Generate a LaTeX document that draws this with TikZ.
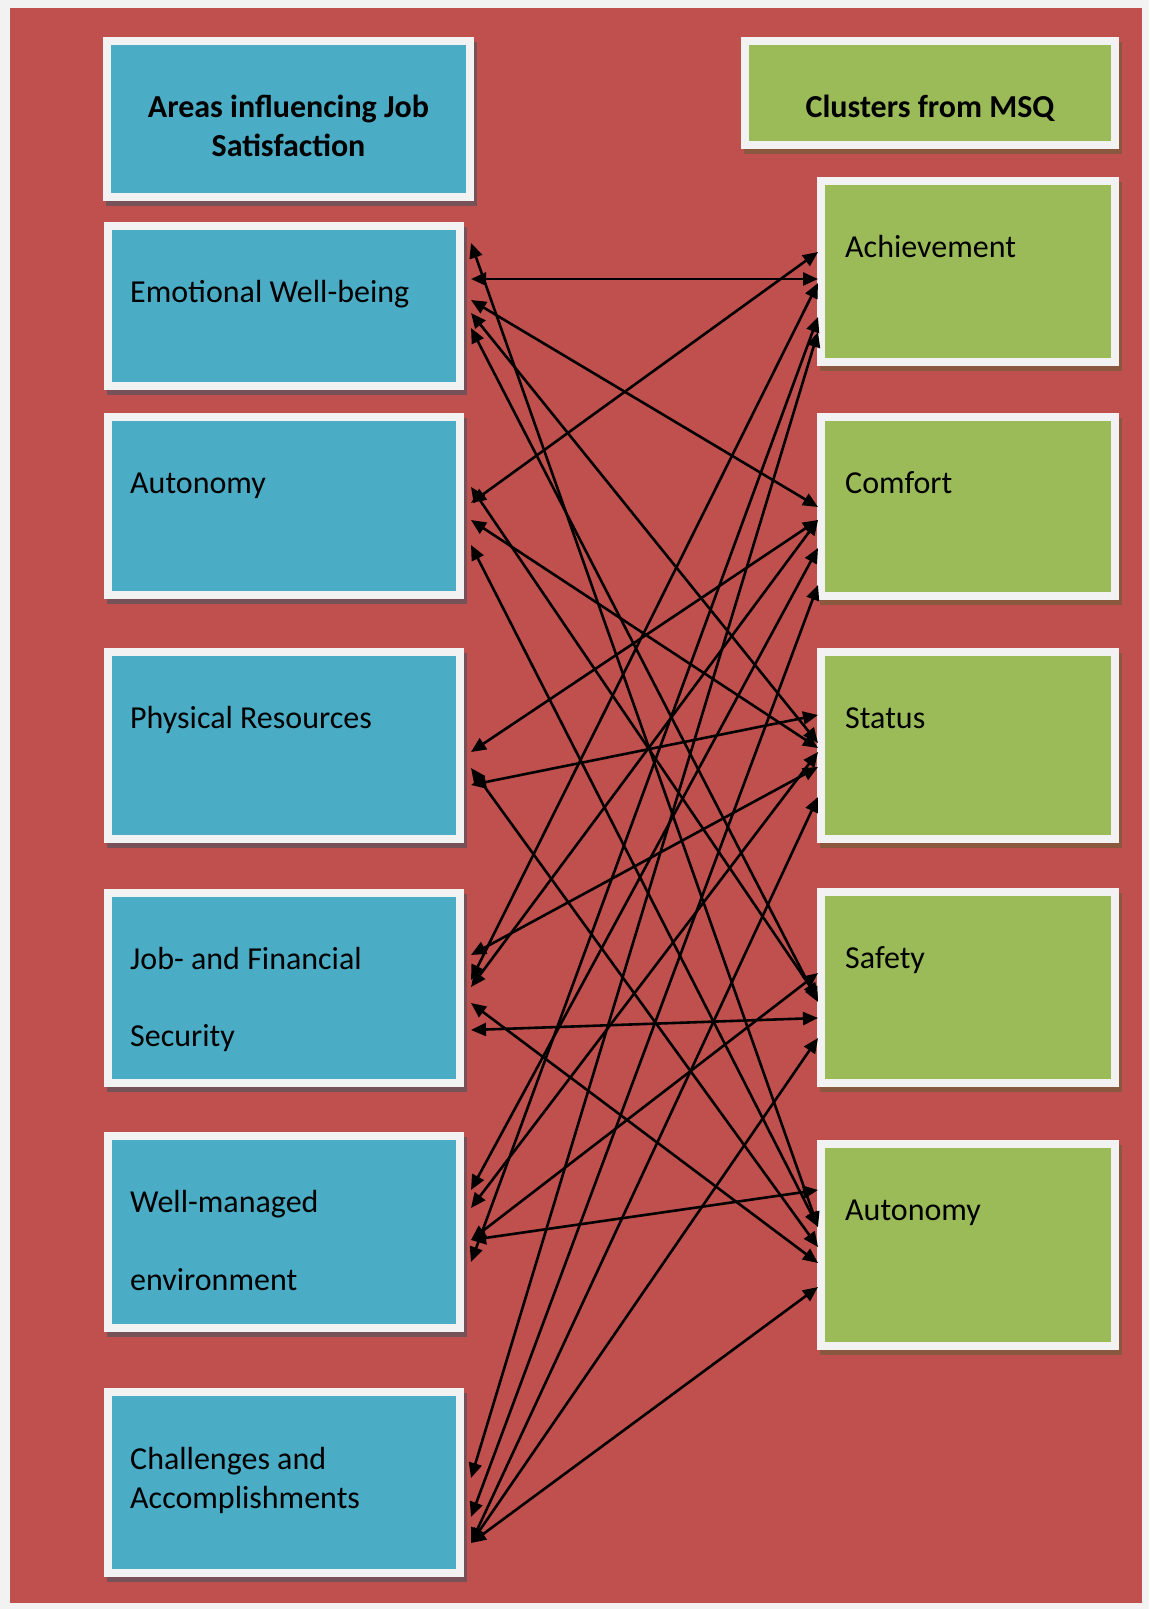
\documentclass[tikz,border=0pt]{standalone}
\usepackage{fontspec}
\setmainfont{Carlito}
\usetikzlibrary{positioning, calc, arrows.meta, shadows}

\definecolor{bgred}{RGB}{192,80,77}
\definecolor{pagegrey}{RGB}{242,242,242}
\definecolor{areablue}{RGB}{75,172,198}
\definecolor{msqgreen}{RGB}{155,187,89}
\definecolor{blueshade}{RGB}{118,82,88}
\definecolor{greenshade}{RGB}{137,88,62}

\begin{document}
\begin{tikzpicture}[
        x=1pt, y=-1pt,
        >={Triangle[length=15pt,width=13pt]},
        base/.style={rectangle, draw=pagegrey, line width=8pt, inner sep=0pt, outer sep=4pt},
        area/.style={base, fill=areablue, minimum width=352pt,
            drop shadow={shadow xshift=3pt, shadow yshift=-5pt, fill=blueshade, draw=blueshade, line width=8pt, opacity=1}},
        cluster/.style={base, fill=msqgreen, minimum width=294pt,
            drop shadow={shadow xshift=3pt, shadow yshift=-5pt, fill=greenshade, draw=greenshade, line width=8pt, opacity=1}},
        txt/.style={anchor=base west, inner sep=0pt, align=left, font=\fontsize{32}{38}\selectfont},
        head/.style={anchor=base, inner sep=0pt, align=center, font=\fontsize{32}{39}\selectfont\bfseries},
        link/.style={<->, line width=2.6pt}
        ]

        \fill[pagegrey] (0,0) rectangle (1149,1609);
        \fill[bgred] (10,8) rectangle (1142,1603);

        % headers
        \node[area, minimum width=363pt, minimum height=156pt] (areas) at (288.5,119) {};
        \node[cluster, minimum width=370pt, minimum height=104pt] (clusters) at (930,93) {};

        % left column
        \node[area, minimum height=160pt] (emotional) at (284,306) {};
        \node[area, minimum height=178pt, below=23pt of emotional] (autonomy) {};
        \node[area, minimum height=187pt, below=49pt of autonomy] (physical) {};
        \node[area, minimum height=190pt, below=46pt of physical] (jobsec) {};
        \node[area, minimum height=192pt, below=45pt of jobsec] (managed) {};
        \node[area, minimum height=181pt, below=56pt of managed] (challenge) {};

        % right column
        \node[cluster, minimum height=181pt] (achieve) at (968,271.5) {};
        \node[cluster, minimum height=179pt, below=47pt of achieve] (comfort) {};
        \node[cluster, minimum height=187pt, below=48pt of comfort] (status) {};
        \node[cluster, minimum height=191pt, below=45pt of status] (safety) {};
        \node[cluster, minimum height=202pt, below=53pt of safety] (msqauto) {};

        % texts (multi-line ones sit on their last line)
        \node[head] (areastxt) at ($(areas.north)+(0,119)$) {Areas influencing Job\\Satisfaction};
        \node[head] (clusterstxt) at ($(clusters.north)+(0,80)$) {Clusters from MSQ};
        \node[txt] (emotionaltxt) at ($(emotional.north west)+(26,80)$) {Emotional Well-being};
        \node[txt] (autonomytxt) at ($(autonomy.north west)+(26,80)$) {Autonomy};
        \node[txt] (physicaltxt) at ($(physical.north west)+(26,80)$) {Physical Resources};
        \node[txt] (jobsectxt) at ($(jobsec.north west)+(26,157)$) {Job- and Financial\\[39pt]Security};
        \node[txt] (managedtxt) at ($(managed.north west)+(26,158)$) {Well-managed\\[40pt]environment};
        \node[txt, font=\fontsize{32}{39}\selectfont] (challengetxt) at ($(challenge.north west)+(26,120)$) {Challenges and\\Accomplishments};
        \node[txt] (achievetxt) at ($(achieve.north west)+(28,80)$) {Achievement};
        \node[txt] (comforttxt) at ($(comfort.north west)+(28,80)$) {Comfort};
        \node[txt] (statustxt) at ($(status.north west)+(28,80)$) {Status};
        \node[txt] (safetytxt) at ($(safety.north west)+(28,80)$) {Safety};
        \node[txt] (msqautotxt) at ($(msqauto.north west)+(28,80)$) {Autonomy};

        % links
        \draw[link] ($(emotional.north east)+(7,57)$) -- ($(achieve.north west)+(1,102)$);
        \draw[link] ($(emotional.north east)+(7,78)$) -- ($(comfort.north west)+(1,94)$);
        \draw[link] ($(emotional.north east)+(7,91)$) -- ($(status.north west)+(1,95)$);
        \draw[link] ($(emotional.north east)+(7,106)$) -- ($(safety.north west)+(1,114)$);
        \draw[link] ($(emotional.north east)+(7,21)$) -- ($(msqauto.north west)+(1,87)$);
        \draw[link] ($(autonomy.north east)+(7,90)$) -- ($(achieve.north west)+(1,75)$);
        \draw[link] ($(autonomy.north east)+(7,107)$) -- ($(status.north west)+(1,100)$);
        \draw[link] ($(autonomy.north east)+(7,74)$) -- ($(safety.north west)+(1,110)$);
        \draw[link] ($(autonomy.north east)+(7,132)$) -- ($(msqauto.north west)+(1,87)$);
        \draw[link] ($(physical.north east)+(7,104)$) -- ($(comfort.north west)+(1,107)$);
        \draw[link] ($(physical.north east)+(7,137)$) -- ($(status.north west)+(1,67)$);
        \draw[link] ($(physical.north east)+(7,120)$) -- ($(msqauto.north west)+(1,107)$);
        \draw[link] ($(jobsec.north east)+(7,91)$) -- ($(achieve.north west)+(1,106)$);
        \draw[link] ($(jobsec.north east)+(7,98)$) -- ($(comfort.north west)+(1,107)$);
        \draw[link] ($(jobsec.north east)+(7,66)$) -- ($(status.north west)+(1,119)$);
        \draw[link] ($(jobsec.north east)+(7,141)$) -- ($(safety.north west)+(1,130)$);
        \draw[link] ($(jobsec.north east)+(7,114)$) -- ($(msqauto.north west)+(1,123)$);
        \draw[link] ($(managed.north east)+(7,130)$) -- ($(achieve.north west)+(1,140)$);
        \draw[link] ($(managed.north east)+(7,58)$) -- ($(comfort.north west)+(1,135)$);
        \draw[link] ($(managed.north east)+(7,76)$) -- ($(status.north west)+(1,104)$);
        \draw[link] ($(managed.north east)+(7,108)$) -- ($(safety.north west)+(1,85)$);
        \draw[link] ($(managed.north east)+(7,108)$) -- ($(msqauto.north west)+(1,50)$);
        \draw[link] ($(challenge.north east)+(7,90)$) -- ($(achieve.north west)+(1,155)$);
        \draw[link] ($(challenge.north east)+(7,129)$) -- ($(comfort.north west)+(1,172)$);
        \draw[link] ($(challenge.north east)+(7,155)$) -- ($(status.north west)+(1,149)$);
        \draw[link] ($(challenge.north east)+(7,155)$) -- ($(safety.north west)+(1,150)$);
        \draw[link] ($(challenge.north east)+(7,155)$) -- ($(msqauto.north west)+(1,147)$);
    \end{tikzpicture}
\end{document}
